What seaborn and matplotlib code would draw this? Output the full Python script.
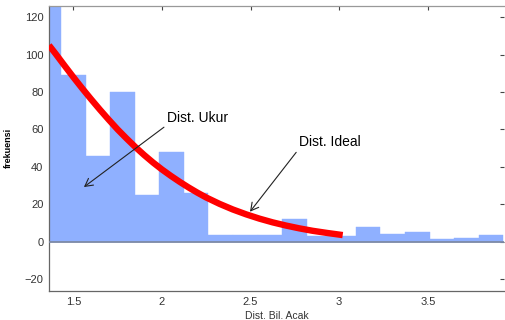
import numpy as np
import pandas as pd
import seaborn as sns
import matplotlib
matplotlib.use("Agg")
import matplotlib.pyplot as plt

# histogram (measured distribution)
bin_centers = [1.361, 1.500, 1.639, 1.777, 1.916, 2.054, 2.193, 2.332, 2.470, 2.609,
               2.747, 2.886, 3.025, 3.163, 3.302, 3.440, 3.579, 3.718, 3.856]
counts = [130, 89, 46, 80, 25, 48, 26, 3.5, 3.5, 3.5,
          12, 3, 3, 8, 4, 5, 1.3, 2, 3.4]

# ideal curve
ideal_x = [1.363, 1.40, 1.45, 1.50, 1.55, 1.60, 1.65, 1.70, 1.75, 1.80, 1.85,
           1.90, 1.95, 2.00, 2.05, 2.10, 2.15, 2.20, 2.25, 2.325, 2.40, 2.475,
           2.55, 2.625, 2.70, 2.775, 2.85, 2.935, 3.02]
ideal_y = [105, 100.5, 94.2, 88, 82, 76.2, 70.6, 65.2, 60, 55.2, 50.6,
           46.3, 42.3, 38.6, 35.2, 32, 29, 26.2, 23.6, 20.2, 17.2, 14.6,
           12.3, 10.3, 8.6, 7.1, 5.8, 4.6, 3.5]

x_ticks = [1.5, 2, 2.5, 3, 3.5]
x_tick_labels = ['1.5', '2', '2.5', '3', '3.5']
y_ticks = [-20, 0, 20, 40, 60, 80, 100, 120]

hist_df = pd.DataFrame({'x': bin_centers, 'n': counts})
ideal_df = pd.DataFrame({'x': ideal_x, 'y': ideal_y})

sns.set_style("white")
plt.rcParams['font.family'] = ['Liberation Sans', 'DejaVu Sans']

fig = plt.figure(figsize=(5.05, 3.2), dpi=100)
ax = fig.add_axes([49 / 505, 1 - 291 / 320, 455 / 505, 285 / 320])

w = np.diff(bin_centers).mean()
edges = list(np.array(bin_centers) - w / 2) + [bin_centers[-1] + w / 2]
sns.histplot(data=hist_df, x='x', weights='n', bins=edges, ax=ax,
             color='#8fb0ff', alpha=1, edgecolor='#8fb0ff', linewidth=0.3)
ax.axhline(0, color='#7d8aa6', lw=1.3, zorder=3)

sns.lineplot(data=ideal_df, x='x', y='y', ax=ax, color='#ff0000', lw=4.6,
             solid_capstyle='butt', solid_joinstyle='round', zorder=4)

arrow = dict(arrowstyle='->,head_length=0.55,head_width=0.3', lw=0.8,
             color='#222222', shrinkA=0, shrinkB=0, relpos=(0, 0))
ax.annotate('Dist. Ukur', xy=(1.560, 29.2), xytext=(2.03, 62.5),
            ha='left', va='bottom', fontsize=10, color='black',
            arrowprops=arrow, zorder=5)
ax.annotate('Dist. Ideal', xy=(2.497, 16.0), xytext=(2.772, 49.5),
            ha='left', va='bottom', fontsize=10, color='black',
            arrowprops=arrow, zorder=5)

ax.set_xlim(1.363, 3.93)
ax.set_ylim(-26.4, 126)
ax.set_xticks(x_ticks)
ax.set_xticklabels(x_tick_labels)
ax.set_yticks(y_ticks)
ax.tick_params(direction='in', length=3, width=0.8, colors='#444444',
               labelsize=8, top=True, right=True, pad=4)
for t in ax.get_xticklabels() + ax.get_yticklabels():
    t.set_color('#333333')
for side in ['left', 'bottom', 'top']:
    ax.spines[side].set_color('#666666')
    ax.spines[side].set_linewidth(0.9)
ax.spines['top'].set_color('#999999')
ax.spines['right'].set_visible(False)

ax.set_xlabel('Dist. Bil. Acak', fontsize=7.5, color='#333333', labelpad=3)
ax.set_ylabel('frekuensi', fontsize=6.5, fontweight='bold', color='black')
ax.yaxis.set_label_coords(-36 / 455, (291 - 148) / 285)

plt.savefig('out.png', dpi=100)
